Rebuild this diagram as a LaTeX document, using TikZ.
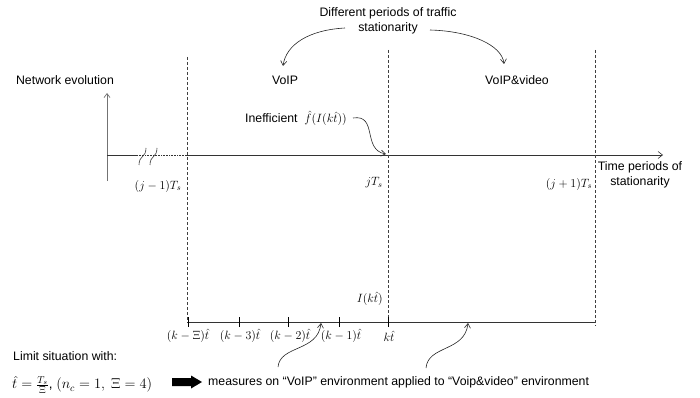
\documentclass[tikz,border=0pt]{standalone}
\usepackage{fontspec}
\setmainfont{Liberation Sans}
\usetikzlibrary{arrows.meta}
\begin{document}
\begin{tikzpicture}[x=1pt,y=-1pt,
  txt/.style={inner sep=0pt,font=\fontsize{12.3}{15}\selectfont},
  mth/.style={inner sep=0pt,font=\fontsize{11.5}{14}\selectfont},
  ax/.style={draw=black!80,line width=0.6pt},
  vdash/.style={draw=black!75,line width=0.6pt,dash pattern=on 3pt off 2pt},
  curv/.style={draw=black!85,line width=0.6pt,-{Straight Barb[length=4.5pt,width=6pt]}},
  brk/.style={draw=black!80,line width=0.6pt},
  tickm/.style={draw=black,line width=0.8pt}]
\useasboundingbox (0,0) rectangle (700,398);
% texts
\node[txt] (netev) at (65,80) {Network evolution};
\node[txt,align=center] (diff) at (388,21) {Different periods of traffic\\stationarity};
\node[txt] (voip) at (285,80) {VoIP};
\node[txt] (voipv) at (517,80) {VoIP\&video};
\node[txt,anchor=west] (ineff) at (245,118) {Inefficient \ $\hat f(I(k\hat t))$};
\node[mth] (jm1) at (158,186) {$(j-1)T_s$};
\node[mth] (j0) at (374,183) {$jT_s$};
\node[mth] (jp1) at (569,184) {$(j+1)T_s$};
\node[txt,align=center] (time) at (640,175) {Time periods of\\stationarity};
\node[mth,anchor=east] (Ikt) at (383,299) {$I(k\hat t)$};
\node[mth] (l0) at (188,336) {$(k-\Xi)\hat t$};
\node[mth] (l1) at (240,336) {$(k-3)\hat t$};
\node[mth] (l2) at (290,336) {$(k-2)\hat t$};
\node[mth] (l3) at (341,336) {$(k-1)\hat t$};
\node[mth] (l4) at (389,336) {$k\hat t$};
\node[txt,anchor=west] (limit) at (13,356) {Limit situation with:};
\node[txt,anchor=west,font=\fontsize{13.6}{15}\selectfont] (form) at (12,385) {$\hat t=\frac{T_s}{\Xi}$, $(n_c=1,\ \Xi=4)$};
\node[txt,anchor=west] (meas) at (208,382) {measures on ``VoIP'' environment applied to ``Voip\&video'' environment};
% coordinates
\coordinate (vb) at (107,181);
\coordinate (vt) at (107,93);
\coordinate (a0) at (107,155);
\coordinate (a1) at (137,155);
\coordinate (a2) at (185,155);
\coordinate (aend) at (663,155);
\coordinate (d1t) at (187,57);
\coordinate (d1b) at (187,322);
\coordinate (d2t) at (388,50);
\coordinate (d2b) at (388,322);
\coordinate (d3t) at (595,50);
\coordinate (d3b) at (595,326);
\coordinate (b0) at (187,322);
\coordinate (b1) at (595,322);
% network evolution arrow
\draw[draw=black!55,line width=0.7pt,-{Straight Barb[length=4pt,width=6pt]}] (vb) -- (vt);
% main axis
\draw[ax] (a0) -- (a1);
\draw[ax,densely dotted] (a1) -- (a2);
\draw[ax,-{Straight Barb[length=4.5pt,width=7pt]}] (a2) -- (aend);
% break marks
\draw[brk] (139,165) .. controls (139,155) and (146,158) .. (146,148);
\draw[brk] (150,165) .. controls (150,155) and (157,158) .. (157,148);
% dashed verticals
\draw[vdash] (d1t) -- (d1b);
\draw[vdash] (d2t) -- (d2b);
\draw[vdash] (d3t) -- (d3b);
% bottom line with ticks
\draw[ax,line width=0.8pt] (b0) -- (b1);
\foreach \x/\n in {188/t0,239/t1,288/t2,339/t3,388/t4}{
  \coordinate (\n u) at (\x,317);
  \coordinate (\n d) at (\x,327);
  \draw[tickm] (\n u) -- (\n d);
}
% curved arrows
\coordinate (c1s) at (345,28);
\coordinate (c1e) at (283,66);
\draw[curv] (c1s) .. controls (308,30) and (286,45) .. (c1e);
\coordinate (c2s) at (430,30);
\coordinate (c2e) at (504,64);
\draw[curv] (c2s) .. controls (470,31) and (502,45) .. (c2e);
\coordinate (c3s) at (353,118);
\coordinate (c3e) at (386,154);
\draw[curv] (c3s) .. controls (378,114) and (362,150) .. (c3e);
\coordinate (c4s) at (278,367);
\coordinate (c4e) at (321,323);
\draw[curv] (c4s) .. controls (280,345) and (318,352) .. (c4e);
\coordinate (c5s) at (426,368);
\coordinate (c5e) at (468,323);
\draw[curv] (c5s) .. controls (428,345) and (465,352) .. (c5e);
% block arrow
\fill[black] (172,378) -- (191,378) -- (191,375.5) -- (202,382) -- (191,388.5) -- (191,386) -- (172,386) -- cycle;
\end{tikzpicture}
\end{document}
